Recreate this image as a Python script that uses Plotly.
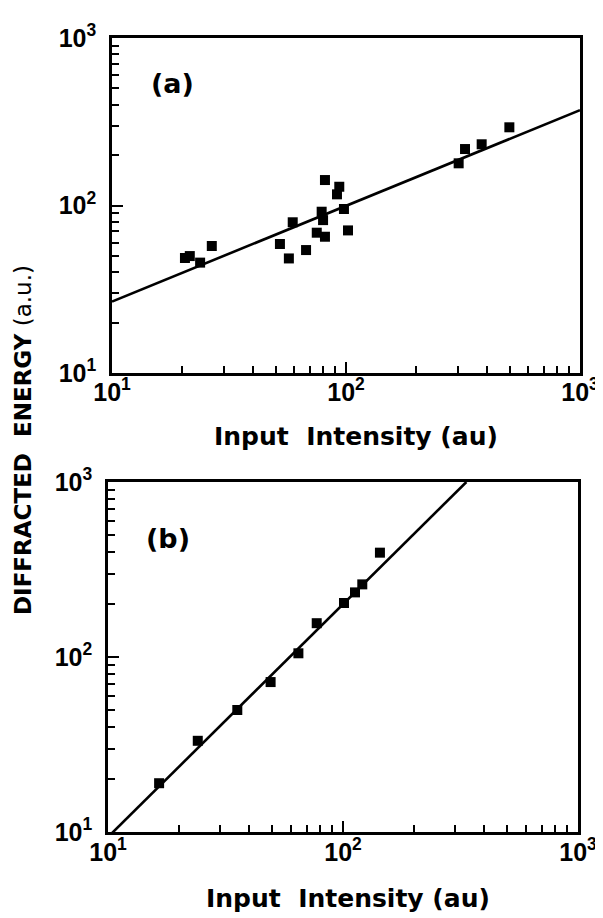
import plotly.graph_objects as go

W, H = 603, 918
OFF = 8  # page body offset in the browser

# ---------------- data ----------------
a_x = [20.5, 21.5, 23.8, 26.7, 52.2, 59.2, 57.0, 67.5, 75.0, 81.3, 78.7, 79.8,
       81.3, 93.6, 91.5, 98.0, 102.0, 303, 322.6, 380, 499]
a_y = [48.6, 49.9, 45.6, 57.3, 58.9, 79.4, 48.3, 54.2, 68.8, 65.1, 91.8, 81.8,
       141.9, 129.4, 116.6, 95.3, 71.0, 178.6, 217.3, 232, 293]
a_fit_x = [10, 1000]
a_fit_y = [26.7, 371]

b_x = [16.5, 24.1, 35.5, 49.2, 64.6, 77.3, 101, 112.5, 120.8, 143.6]
b_y = [19.0, 33.2, 49.8, 71.9, 105, 156, 203.5, 234, 260, 394.6]
b_fit_x = [10, 335]
b_fit_y = [9.36, 1000]

major_vals = [10, 100, 1000]
major_text = ["10<sup>1</sup>", "10<sup>2</sup>", "10<sup>3</sup>"]
minor_vals = [m * d for d in (10, 100) for m in range(2, 10)]

panel_labels = ["(a)", "(b)"]
x_title = "Input&nbsp; Intensity (au)"
y_title = "<b>DIFFRACTED&nbsp; ENERGY</b> (a.u.)"


def fx(px):
    return (px - OFF) / W


def fy(py):
    return 1 - (py - OFF) / H


fig = go.Figure()

fig.add_trace(go.Scatter(x=a_x, y=a_y, mode="markers", xaxis="x", yaxis="y",
                         marker=dict(symbol="square", size=10, color="black"),
                         showlegend=False))
fig.add_trace(go.Scatter(x=a_fit_x, y=a_fit_y, mode="lines", xaxis="x", yaxis="y",
                         line=dict(color="black", width=2.6), showlegend=False))
fig.add_trace(go.Scatter(x=b_x, y=b_y, mode="markers", xaxis="x2", yaxis="y2",
                         marker=dict(symbol="square", size=10, color="black"),
                         showlegend=False))
fig.add_trace(go.Scatter(x=b_fit_x, y=b_fit_y, mode="lines", xaxis="x2", yaxis="y2",
                         line=dict(color="black", width=2.6), showlegend=False))

tickfont = dict(family="Liberation Sans, Arial, sans-serif", size=25,
                color="black", weight="bold")


def axis_common(domain, anchor, standoff):
    return dict(
        type="log", range=[1, 3], domain=domain, anchor=anchor,
        showline=True, linecolor="black", linewidth=2.5, mirror=True,
        showgrid=False, zeroline=False, automargin=False,
        tickmode="array", tickvals=major_vals, ticktext=major_text,
        ticks="inside", ticklen=11, tickwidth=2.2, tickcolor="black",
        minor=dict(tickmode="array", tickvals=minor_vals, ticks="inside",
                   ticklen=7, tickwidth=2, tickcolor="black", showgrid=False),
        tickfont=tickfont, ticklabelstandoff=standoff,
    )


fig.update_layout(
    width=W, height=H, autosize=False,
    margin=dict(l=0, r=0, t=0, b=0, pad=0, autoexpand=False),
    paper_bgcolor="white", plot_bgcolor="white",
    xaxis=axis_common([fx(112), fx(580)], "y", -5),
    yaxis=axis_common([fy(373), fy(38)], "x", 8),
    xaxis2=axis_common([fx(108), fx(578)], "y2", -4),
    yaxis2=axis_common([fy(832), fy(482)], "x2", 8),
)

title_font = dict(family="DejaVu Sans, sans-serif", size=25, color="black", weight="bold")
ann = [
    dict(text=x_title, x=fx(356), y=fy(436), xref="paper", yref="paper",
         showarrow=False, font=title_font, xanchor="center", yanchor="middle"),
    dict(text=x_title, x=fx(348), y=fy(898), xref="paper", yref="paper",
         showarrow=False, font=title_font, xanchor="center", yanchor="middle"),
    dict(text=y_title, x=fx(23), y=fy(440), xref="paper", yref="paper",
         showarrow=False, textangle=-90, borderpad=0,
         font=dict(family="DejaVu Sans, sans-serif", size=23, color="black"),
         xanchor="center", yanchor="middle"),
    dict(text="<b>" + panel_labels[0] + "</b>", x=fx(172), y=fy(83), xref="paper",
         yref="paper", showarrow=False,
         font=dict(family="DejaVu Sans, sans-serif", size=27, color="black"),
         xanchor="center", yanchor="middle"),
    dict(text="<b>" + panel_labels[1] + "</b>", x=fx(168), y=fy(538), xref="paper",
         yref="paper", showarrow=False,
         font=dict(family="DejaVu Sans, sans-serif", size=27, color="black"),
         xanchor="center", yanchor="middle"),
]
fig.update_layout(annotations=ann)

fig.write_html("out.html")
